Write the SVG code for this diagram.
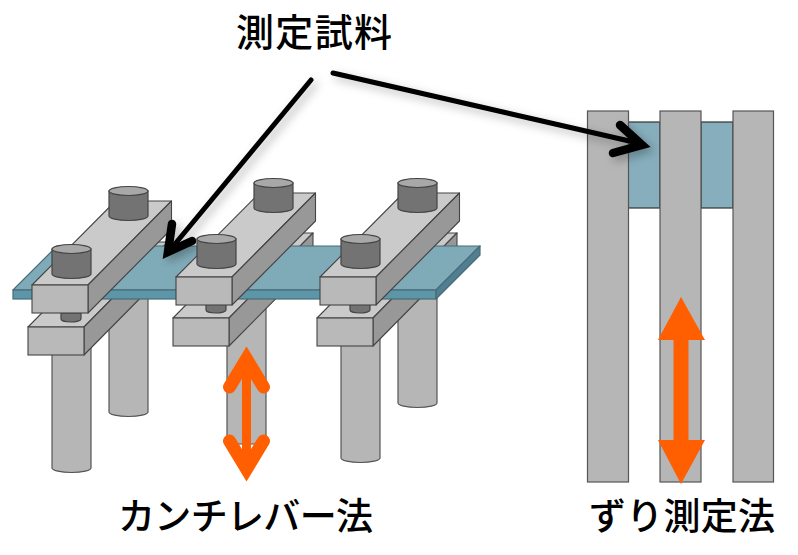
<svg xmlns="http://www.w3.org/2000/svg" width="798" height="555" viewBox="0 0 798 555">
<style>
.g{fill:#b6b6b6;stroke:#555;stroke-width:1.2}
.top{fill:#cacaca;stroke:#444;stroke-width:1.1;stroke-linejoin:round}
.front{fill:#b9b9b9;stroke:#444;stroke-width:1.1}
.side{fill:#989898;stroke:#444;stroke-width:1.1;stroke-linejoin:round}
.bolt{fill:#737373;stroke:#444;stroke-width:1.2}
.boltt{fill:#a8a8a8;stroke:#444;stroke-width:1.2}
.tt{fill:#7fabb8;stroke:#4a6b78;stroke-width:1.2;stroke-linejoin:round}
.tf{fill:#5d96a8;stroke:#4a6b78;stroke-width:1.2}
.ts{fill:#4f7f90;stroke:#4a6b78;stroke-width:1.2;stroke-linejoin:round}
.sample{fill:#86aebc;stroke:#333;stroke-width:1.2}
.or{fill:none;stroke:#ff5f00;stroke-linecap:round;stroke-linejoin:miter;stroke-miterlimit:10}
.bk{fill:none;stroke:#000;stroke-linecap:round;stroke-linejoin:miter;stroke-miterlimit:10}
text{font-family:"Noto Sans CJK JP","Noto Sans",sans-serif;font-weight:500;fill:#000}
</style>
<defs>
<filter id="sh" x="-30%" y="-30%" width="170%" height="170%"><feDropShadow dx="4" dy="4" stdDeviation="5" flood-color="#000" flood-opacity="0.28"/></filter>
<g id="post"><path class="g" d="M0,0V114A19.5,4.500 0 0 0 39,114V0Z"/></g>
<g id="bolt"><path class="bolt" d="M0,0V25A19.5,4.500 0 0 0 39,25V0Z"/><ellipse class="boltt" cx="19.5" cy="0" rx="19.5" ry="4.500"/></g>
<g id="lower"><path class="top" d="M0,0H56L140,-85H84Z"/><path class="side" d="M56,0L140,-85V-57L56,28Z"/><rect class="front" width="56" height="28"/></g>
<g id="upper"><path class="top" d="M0,0H56L139.500,-84H83.500Z"/><path class="side" d="M56,0L139.500,-84V-56L56,28Z"/><rect class="front" width="56" height="28"/></g>
<path id="small" class="bolt" d="M0,0V6A10,3 0 0 0 20,6V0Z"/>
</defs>

<g id="cantilever-posts">
<use href="#post" x="109" y="298"/>
<use href="#post" x="398" y="289"/>
<path class="g" d="M52,340V468A19.5,4.500 0 0 0 91,468V340Z"/>
<path class="g" d="M227,300V444H266V300Z"/>
<path class="g" d="M341,330V458A19.5,4.500 0 0 0 380,458V330Z"/>
</g>
<g id="lower-clamps">
<use href="#lower" x="28" y="327"/>
<use href="#lower" x="173" y="318"/>
<use href="#lower" x="317" y="318"/>
<use href="#small" x="61" y="313"/>
<use href="#small" x="206" y="304"/>
<use href="#small" x="350" y="304"/>
</g>
<g id="sample-plate">
<path class="tt" d="M13,290H436L480,246H57Z"/>
<rect class="tf" x="13" y="290" width="423" height="9"/>
<path class="ts" d="M436,290L480,246V255L436,299Z"/>
</g>
<g id="clamp-1">
<use href="#upper" x="32" y="285"/>
<use href="#bolt" x="109" y="191"/>
<use href="#bolt" x="52" y="249"/>
</g>
<g id="clamp-3">
<use href="#upper" x="320" y="277"/>
<use href="#bolt" x="398" y="183"/>
<use href="#bolt" x="341" y="239"/>
</g>
<g id="clamp-2-back">
<use href="#upper" x="176" y="277"/>
<use href="#bolt" x="254" y="183"/>
</g>
<g id="shear-fixture">
<rect class="sample" x="628" y="122" width="32" height="86"/>
<rect class="sample" x="701" y="122" width="32" height="86"/>
<rect class="g" x="587.500" y="111" width="41" height="371"/>
<rect class="g" x="660" y="111" width="41" height="371"/>
<rect class="g" x="733" y="111" width="40.500" height="371"/>
</g>
<g id="connectors">
<g filter="url(#sh)">
<path class="bk" stroke-width="5" d="M311,80L170,250"/>
<path class="bk" stroke-width="8.500" d="M172,224L168,252L192,241"/>
<path class="bk" stroke-width="5" d="M333,73L638,143"/>
<path class="bk" stroke-width="8.500" d="M620,125L642,145L613,153"/>
</g>
<path class="or" stroke-width="9" d="M246.500,360V470"/>
<path class="or" stroke-width="13" d="M229.500,387L246.500,359L263.500,387"/>
<path class="or" stroke-width="13" d="M229.500,441L246.500,469L263.500,441"/>
<path fill="#ff5f00" d="M673.500,330H688.500V450H673.500Z"/>
<path fill="#ff5f00" d="M681,297L705,340H658Z"/>
<path fill="#ff5f00" d="M681,484L705,440H658Z"/>
</g>
<g id="clamp-2-front">
<use href="#bolt" x="197" y="239"/>
</g>
<g id="labels">
<text x="236" y="46" font-size="38" textLength="156" lengthAdjust="spacing">測定試料</text>
<text x="118" y="530" font-size="37" textLength="255" lengthAdjust="spacing">カンチレバー法</text>
<text x="589" y="530" font-size="37" textLength="186" lengthAdjust="spacing">ずり測定法</text>
</g>
</svg>
